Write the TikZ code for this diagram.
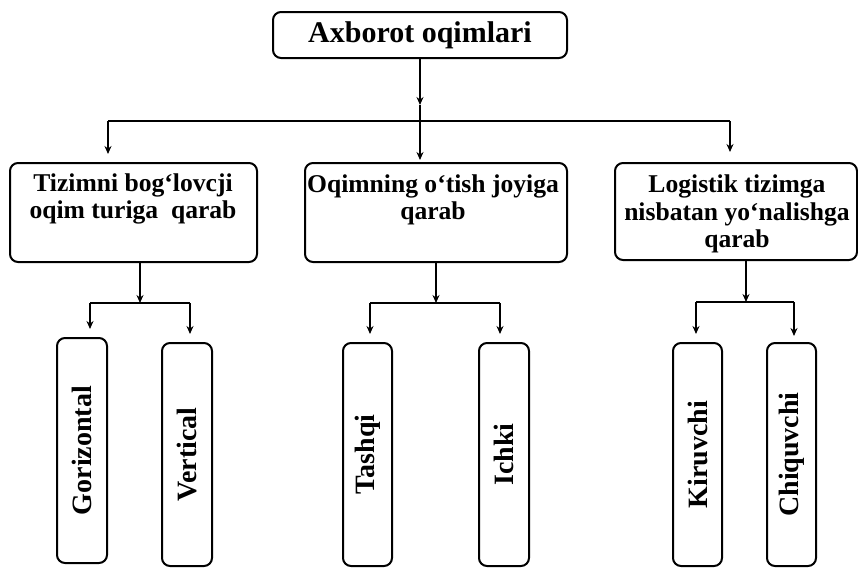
\documentclass[tikz,border=0pt]{standalone}
\usepackage{fontspec}
\setmainfont{Liberation Serif}
\usetikzlibrary{arrows.meta}
\begin{document}
\begin{tikzpicture}[x=0.5pt,y=-0.5pt,
  box/.style={draw, line width=1pt, rounded corners=4pt, inner sep=0pt},
  conn/.style={line width=0.9pt},
  arr/.style={conn, -{Stealth[length=4pt,width=3.5pt]}},
  lvone/.style={font=\fontsize{15}{17}\selectfont\bfseries},
  lvtwo/.style={font=\fontsize{12.8}{13.6}\selectfont\bfseries, align=center},
  lvthree/.style={font=\fontsize{14}{16}\selectfont\bfseries, rotate=90}]
\useasboundingbox (0,0) rectangle (858,568);
% top
\node[box, minimum width=147pt, minimum height=23pt, lvone] (top) at (420,35) {Axborot oqimlari};
% level 2 boxes
\node[box, minimum width=123.5pt, minimum height=49.5pt] (L) at (133.5,212.5) {};
\node[box, minimum width=131pt, minimum height=49.5pt] (M) at (436,212.5) {};
\node[box, minimum width=121pt, minimum height=48.5pt] (R) at (736,211.5) {};
\node[lvtwo] (Lt) at (133,199) {Tizimni bog‘lovcji\\oqim turiga\ \ qarab};
\node[lvtwo] (Mt) at (433,200) {Oqimning o‘tish joyiga\\qarab};
\node[lvtwo] (Rt) at (737,214) {Logistik tizimga\\nisbatan yo‘nalishga\\qarab};
% level 3 boxes (rotated: width/height swapped, east = top)
\node[box, minimum height=25pt, minimum width=112.5pt, lvthree] (G) at (82,450.5) {Gorizontal};
\node[box, minimum height=25pt, minimum width=111.5pt, lvthree] (V) at (187,454.5) {Vertical};
\node[box, minimum height=24.5pt, minimum width=111.5pt, lvthree] (T) at (367.5,454.5) {Tashqi};
\node[box, minimum height=25pt, minimum width=111.5pt, lvthree] (I) at (504,454.5) {Ichki};
\node[box, minimum height=24.5pt, minimum width=111.5pt, lvthree] (K) at (697.5,454.5) {Kiruvchi};
\node[box, minimum height=24.5pt, minimum width=111.5pt, lvthree] (C) at (791.5,454.5) {Chiquvchi};
% coordinates
\coordinate (tmid) at (420,105);
\coordinate (busC) at (420,121);
\coordinate (busL) at (108,121);
\coordinate (busR) at (730,121);
\coordinate (jL) at (140,303);
\coordinate (jLa) at (90,303);
\coordinate (jLb) at (190,303);
\coordinate (jM) at (436,303);
\coordinate (jMa) at (370,303);
\coordinate (jMb) at (500,303);
\coordinate (jR) at (746,302);
\coordinate (jRa) at (696,302);
\coordinate (jRb) at (794,302);
% connectors top
\draw[arr] (top.south) -- (tmid);
\draw[conn] (tmid) -- (busC);
\draw[conn] (busL) -- (busR);
\draw[arr, shorten >=4pt] (busL) -- (busL |- L.north);
\draw[arr, shorten >=1pt] (busC) -- (busC |- M.north);
\draw[arr, shorten >=5pt] (busR) -- (busR |- R.north);
% level 2 down
\draw[arr] (L.south -| jL) -- (jL);
\draw[conn] (jLa) -- (jLb);
\draw[arr, shorten >=4pt] (jLa) -- (jLa |- G.east);
\draw[arr, shorten >=4pt] (jLb) -- (jLb |- V.east);
\draw[arr] (M.south -| jM) -- (jM);
\draw[conn] (jMa) -- (jMb);
\draw[arr, shorten >=4pt] (jMa) -- (jMa |- T.east);
\draw[arr, shorten >=4pt] (jMb) -- (jMb |- I.east);
\draw[arr] (R.south -| jR) -- (jR);
\draw[conn] (jRa) -- (jRb);
\draw[arr, shorten >=4pt] (jRa) -- (jRa |- K.east);
\draw[arr, shorten >=3pt] (jRb) -- (jRb |- C.east);
\end{tikzpicture}
\end{document}
